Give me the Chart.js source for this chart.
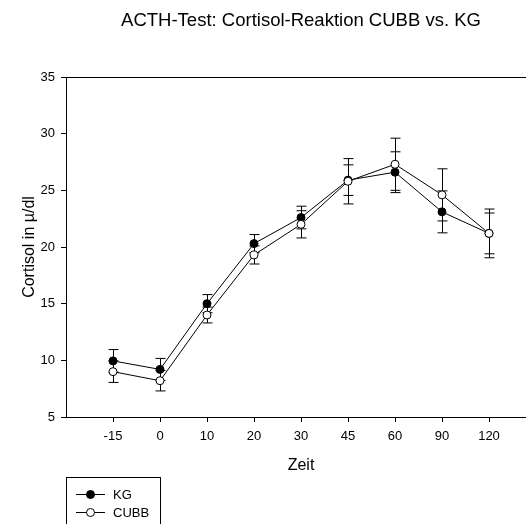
<!DOCTYPE html>
<html>
<head>
<meta charset="utf-8">
<script src="https://cdn.jsdelivr.net/npm/chart.js@4.4.0/dist/chart.umd.min.js"></script>
<style>
    body { margin: 0; background: #fff; }
    #wrap { width: 526px; height: 524px; overflow: hidden; position: relative; }
</style>
</head>
<body>
<div id="wrap">
    <canvas id="graph" width="560" height="524"></canvas>
</div>
<script>
// time points (min) after ACTH
const zeitLabels = ['-15', '0', '10', '20', '30', '45', '60', '90', '120'];

// cortisol means and errors (µg/dl)
const kgMean = [9.95, 9.2, 15.0, 20.3, 22.6, 25.9, 26.6, 23.1, 21.2];
const kgErr = [1.0, 0.97, 0.8, 0.8, 1.0, 1.35, 1.8, 1.85, 1.8];

const cubbMean = [9.0, 8.2, 14.0, 19.3, 22.0, 25.8, 27.3, 24.6, 21.2];
const cubbErr = [0.95, 0.9, 0.7, 0.8, 1.2, 2.0, 2.3, 2.3, 2.15];

const titleText = 'ACTH-Test: Cortisol-Reaktion CUBB vs. KG';

Chart.defaults.font.family = "'Liberation Sans', Arial, sans-serif";
Chart.defaults.color = '#000';

function toPoints(values) {
    return values.map(function(v, i) { return { x: i, y: v }; });
}

// error bars behind the markers, frame, title and the boxed legend
const extras = {
    id: 'extras',
    beforeDatasetsDraw: function(chart) {
        const ctx = chart.ctx;
        const xs = chart.scales.x;
        const ys = chart.scales.y;
        ctx.save();
        ctx.strokeStyle = '#000';
        ctx.lineWidth = 1;
        chart.data.datasets.forEach(function(ds) {
            ds.errors.forEach(function(e, i) {
                const m = ds.data[i].y;
                const x = Math.round(xs.getPixelForValue(i)) + 0.5;
                const yTop = ys.getPixelForValue(m + e);
                const yBot = ys.getPixelForValue(m - e);
                ctx.beginPath();
                ctx.moveTo(x, yTop);
                ctx.lineTo(x, yBot);
                ctx.moveTo(x - 5, yTop);
                ctx.lineTo(x + 5, yTop);
                ctx.moveTo(x - 5, yBot);
                ctx.lineTo(x + 5, yBot);
                ctx.stroke();
            });
        });
        ctx.restore();
    },
    afterDraw: function(chart) {
        const ctx = chart.ctx;
        const area = chart.chartArea;
        ctx.save();
        // top frame line
        ctx.strokeStyle = '#000';
        ctx.lineWidth = 1;
        ctx.beginPath();
        ctx.moveTo(area.left, Math.round(area.top) + 0.5);
        ctx.lineTo(area.right, Math.round(area.top) + 0.5);
        ctx.stroke();

        // title
        ctx.fillStyle = '#000';
        ctx.font = "18.5px 'Liberation Sans', Arial, sans-serif";
        ctx.textAlign = 'center';
        ctx.textBaseline = 'middle';
        ctx.fillText(titleText, (area.left + area.right) / 2, 21);

        // legend
        ctx.strokeRect(66.5, 477.5, 94, 60);
        ctx.font = "13px 'Liberation Sans', Arial, sans-serif";
        ctx.textAlign = 'left';
        const entries = [
            { label: 'KG', fill: '#000', y: 494 },
            { label: 'CUBB', fill: '#fff', y: 512 }
        ];
        entries.forEach(function(en) {
            ctx.beginPath();
            ctx.moveTo(76, en.y + 0.5);
            ctx.lineTo(105, en.y + 0.5);
            ctx.stroke();
            ctx.beginPath();
            ctx.arc(90.5, en.y + 0.5, 4, 0, Math.PI * 2);
            ctx.fillStyle = en.fill;
            ctx.fill();
            ctx.stroke();
            ctx.fillStyle = '#000';
            ctx.fillText(en.label, 113, en.y + 1);
        });
        ctx.restore();
    }
};

const ctx = document.getElementById('graph');

new Chart(ctx, {
    type: 'line',
    data: {
        datasets: [
            {
                label: 'KG',
                data: toPoints(kgMean),
                errors: kgErr,
                order: 1,
                borderColor: '#000',
                borderWidth: 1,
                backgroundColor: '#000',
                pointRadius: 4,
                pointBorderWidth: 1,
                pointBorderColor: '#000',
                pointBackgroundColor: '#000',
                tension: 0
            },
            {
                label: 'CUBB',
                data: toPoints(cubbMean),
                errors: cubbErr,
                order: 0,
                borderColor: '#000',
                borderWidth: 1,
                backgroundColor: '#fff',
                pointRadius: 4,
                pointBorderWidth: 1,
                pointBorderColor: '#000',
                pointBackgroundColor: '#fff',
                tension: 0
            }
        ]
    },
    options: {
        responsive: false,
        animation: false,
        layout: {
            padding: { left: 0, top: 77, right: 24, bottom: 47 }
        },
        plugins: {
            legend: { display: false },
            tooltip: { enabled: false },
            title: { display: false }
        },
        scales: {
            x: {
                type: 'linear',
                min: -1,
                max: 9,
                afterFit: function(scale) { scale.height = 60; },
                afterBuildTicks: function(scale) {
                    scale.ticks = scale.ticks.filter(function(t) {
                        return t.value >= 0 && t.value < zeitLabels.length;
                    });
                },
                ticks: {
                    stepSize: 1,
                    autoSkip: false,
                    maxRotation: 0,
                    padding: 7,
                    font: { size: 13 },
                    callback: function(v) { return zeitLabels[v]; }
                },
                grid: { drawOnChartArea: false, tickLength: 5, color: '#000' },
                border: { color: '#000', width: 1 },
                title: {
                    display: true,
                    text: 'Zeit',
                    font: { size: 16 },
                    padding: { top: 0, bottom: 2 }
                }
            },
            y: {
                min: 5,
                max: 35,
                afterFit: function(scale) { scale.width = 66; },
                ticks: {
                    stepSize: 5,
                    padding: 6,
                    font: { size: 13 }
                },
                grid: { drawOnChartArea: false, tickLength: 5, color: '#000' },
                border: { color: '#000', width: 1 },
                title: {
                    display: true,
                    text: 'Cortisol in µ/dl',
                    font: { size: 16 },
                    padding: { top: 20, bottom: 0 }
                }
            }
        }
    },
    plugins: [extras]
});
</script>
</body>
</html>
